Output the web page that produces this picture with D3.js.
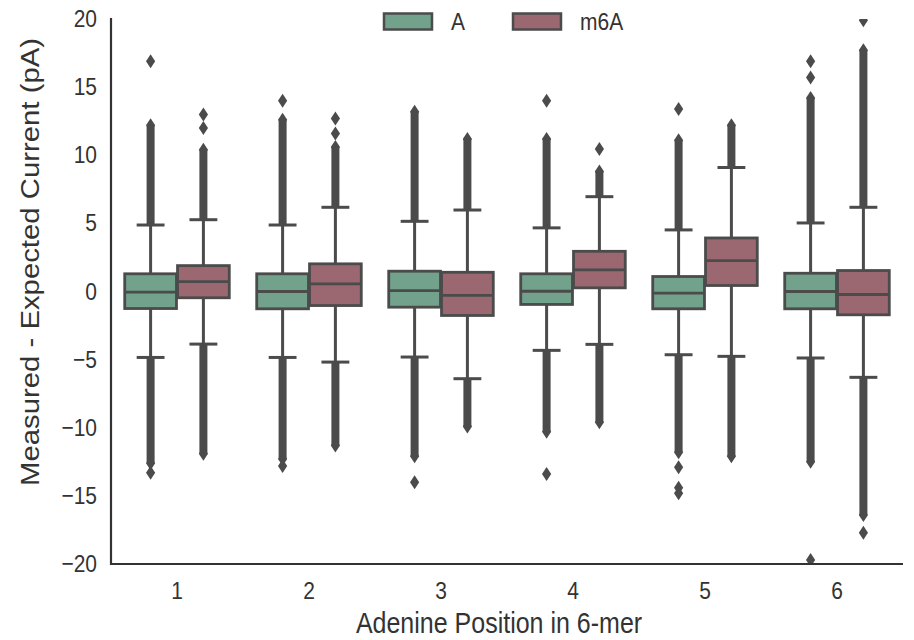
<!DOCTYPE html>
<html><head><meta charset="utf-8">
<script src="https://cdn.jsdelivr.net/npm/d3@7"></script>
<style>body{margin:0;background:#fff}svg{display:block}text{font-family:"Liberation Sans",Arial,sans-serif;fill:#333}</style>
</head><body><svg id="c" width="914" height="640"></svg>
<script>
const positions = ["1","2","3","4","5","6"];
const hues = ["A","m6A"];
const yTicks = [-20,-15,-10,-5,0,5,10,15,20];

// A (unmodified adenine)
const aQ1      = [-1.25,-1.27,-1.15,-0.95,-1.27,-1.27];
const aMedian  = [-0.05, 0.00, 0.07, 0.02,-0.12, 0.00];
const aQ3      = [ 1.30, 1.30, 1.49, 1.30, 1.10, 1.34];
const aWhiskLo = [-4.84,-4.84,-4.81,-4.32,-4.64,-4.88];
const aWhiskHi = [ 4.88, 4.88, 5.15, 4.67, 4.52, 5.03];
const aFlierLo = [-12.6,-12.3,-12.1,-10.3,-11.8,-12.5];   // end of dense outlier run below
const aFlierHi = [ 12.2, 12.6, 13.2, 11.2, 11.1, 14.2];   // end of dense outlier run above
const aFlierPts = [[16.9,-13.3],[14.0,-12.8],[-14.0],[14.0,-13.4],[13.4,-12.9,-14.4,-14.8],[16.9,15.7,-19.7]];

// m6A (methylated adenine)
const mQ1      = [-0.46,-1.03,-1.76, 0.27, 0.44,-1.71];
const mMedian  = [ 0.73, 0.56,-0.29, 1.59, 2.27,-0.22];
const mQ3      = [ 1.90, 2.03, 1.41, 2.95, 3.93, 1.54];
const mWhiskLo = [-3.86,-5.18,-6.40,-3.88,-4.76,-6.30];
const mWhiskHi = [ 5.27, 6.18, 5.98, 6.96, 9.10, 6.18];
const mFlierLo = [-11.9,-11.3,-9.9,-9.6,-12.1,-16.4];
const mFlierHi = [ 10.4, 10.6, 11.2, 8.8, 12.2, 17.7];
const mFlierPts = [[13.0,12.0],[12.7,11.6],[],[10.45],[],[19.9,-17.7]];

const colors = {"A":"#72a18c","m6A":"#9b6770"};
const lineC = "#4b4b4b";

const rows = [];
positions.forEach((p,i)=>{
  rows.push({pos:p,hue:"A",q1:aQ1[i],med:aMedian[i],q3:aQ3[i],wlo:aWhiskLo[i],whi:aWhiskHi[i],flo:aFlierLo[i],fhi:aFlierHi[i],pts:aFlierPts[i]});
  rows.push({pos:p,hue:"m6A",q1:mQ1[i],med:mMedian[i],q3:mQ3[i],wlo:mWhiskLo[i],whi:mWhiskHi[i],flo:mFlierLo[i],fhi:mFlierHi[i],pts:mFlierPts[i]});
});

const svg = d3.select("#c");
const L=111, R=903, T=19, B=564;
const x = d3.scaleBand().domain(positions).range([L,R]).padding(0);
const xh = d3.scaleBand().domain(hues).range([x.bandwidth()*0.1, x.bandwidth()*0.9]);
const y = d3.scaleLinear().domain([-20,20]).range([B,T]);
const cxOf = d => x(d.pos)+xh(d.hue)+xh.bandwidth()/2;

svg.append("defs").append("clipPath").attr("id","clip").append("rect")
  .attr("x",L).attr("y",T).attr("width",R-L).attr("height",B-T);

const boxW = xh.bandwidth()*0.98;
const diamond = "M0,-7L4.6,0L0,7L-4.6,0Z";

// outliers layer (clipped to the axes area)
const flierLayer = svg.append("g").attr("clip-path","url(#clip)");
const fg = flierLayer.selectAll("g").data(rows).join("g")
  .attr("transform",d=>`translate(${cxOf(d)},0)`);
fg.append("rect").attr("x",-4).attr("width",8)
  .attr("y",d=>y(d.fhi)).attr("height",d=>y(d.whi)-y(d.fhi)).attr("fill",lineC);
fg.append("rect").attr("x",-4).attr("width",8)
  .attr("y",d=>y(d.wlo)).attr("height",d=>y(d.flo)-y(d.wlo)).attr("fill",lineC);
fg.selectAll("path").data(d=>[d.fhi,d.flo].concat(d.pts)).join("path")
  .attr("d",diamond).attr("transform",v=>`translate(0,${y(v)})`).attr("fill",lineC);

// boxes
const bx = svg.append("g").selectAll("g").data(rows).join("g")
  .attr("transform",d=>`translate(${cxOf(d)},0)`);
bx.append("line").attr("x1",0).attr("x2",0).attr("y1",d=>y(d.q3)).attr("y2",d=>y(d.whi))
  .attr("stroke",lineC).attr("stroke-width",3);
bx.append("line").attr("x1",0).attr("x2",0).attr("y1",d=>y(d.q1)).attr("y2",d=>y(d.wlo))
  .attr("stroke",lineC).attr("stroke-width",3);
bx.append("line").attr("x1",-boxW/4-1).attr("x2",boxW/4+1).attr("y1",d=>y(d.whi)).attr("y2",d=>y(d.whi))
  .attr("stroke",lineC).attr("stroke-width",3);
bx.append("line").attr("x1",-boxW/4-1).attr("x2",boxW/4+1).attr("y1",d=>y(d.wlo)).attr("y2",d=>y(d.wlo))
  .attr("stroke",lineC).attr("stroke-width",3);
bx.append("rect").attr("x",-boxW/2).attr("width",boxW)
  .attr("y",d=>y(d.q3)).attr("height",d=>y(d.q1)-y(d.q3))
  .attr("fill",d=>colors[d.hue]).attr("stroke",lineC).attr("stroke-width",2.8);
bx.append("line").attr("x1",-boxW/2).attr("x2",boxW/2).attr("y1",d=>y(d.med)).attr("y2",d=>y(d.med))
  .attr("stroke",lineC).attr("stroke-width",2.8);

// spines
svg.append("line").attr("x1",L).attr("x2",L).attr("y1",T-1).attr("y2",B+1).attr("stroke","#333").attr("stroke-width",2.2);
svg.append("line").attr("x1",L-1).attr("x2",R).attr("y1",B).attr("y2",B).attr("stroke","#333").attr("stroke-width",2.2);

// text helper (source figure is slightly stretched vertically)
const SY = 1.15;
function txt(px,py,str,size,anchor,rot){
  const gg = svg.append("g").attr("transform",`translate(${px},${py}) scale(1,${SY})${rot?` rotate(${rot})`:""}`);
  gg.append("text").attr("text-anchor",anchor).attr("dominant-baseline","central")
    .attr("font-size",size).text(str);
}
const yFmt = v => v<0 ? "\u2212"+Math.abs(v) : String(v);
yTicks.forEach(v=>txt(97,y(v),yFmt(v),21,"end"));
positions.forEach(p=>txt(x(p)+x.bandwidth()/2,591,p,21,"middle"));
txt(499,623,"Adenine Position in 6-mer",25,"middle");
txt(30,262,"Measured - Expected Current (pA)",25.5,"middle",-90);

// legend
const legX = [384,513];
hues.forEach((h,i)=>{
  svg.append("rect").attr("x",legX[i]).attr("y",13.5).attr("width",48).attr("height",16)
    .attr("fill",colors[h]).attr("stroke",lineC).attr("stroke-width",2.5);
  txt(legX[i]+67,22,h,21,"start");
});
</script></body></html>
